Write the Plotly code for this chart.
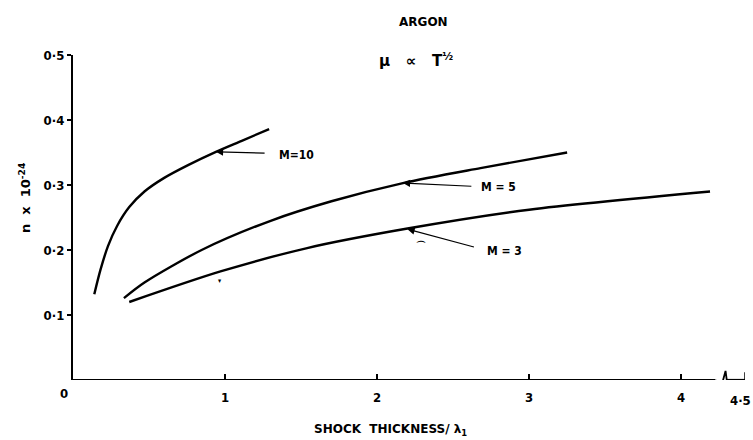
import plotly.graph_objects as go

# ---- data ----
m10_x = [0.14, 0.18, 0.23, 0.29, 0.37, 0.47, 0.60, 0.76, 0.94, 1.11, 1.29]
m10_y = [0.132, 0.169, 0.206, 0.237, 0.266, 0.290, 0.311, 0.331, 0.351, 0.368, 0.386]

m5_x = [0.335, 0.47, 0.846, 1.30, 1.70, 2.17, 2.68, 3.25]
m5_y = [0.126, 0.150, 0.200, 0.245, 0.275, 0.303, 0.326, 0.350]

m3_x = [0.37, 0.97, 1.54, 2.20, 3.00, 4.19]
m3_y = [0.120, 0.167, 0.203, 0.233, 0.262, 0.290]

x_tickvals = [1, 2, 3, 4]
x_ticktext = ["1", "2", "3", "4"]
x_end_label = "4·5"
y_tickvals = [0.1, 0.2, 0.3, 0.4, 0.5]
y_ticktext = ["0·1", "0·2", "0·3", "0·4", "0·5"]

labels = ["M=10", "M = 5", "M = 3"]
label_pos = [(1.467, 0.346), (2.80, 0.297), (2.836, 0.198)]
arrow_head = [(0.94, 0.351), (2.17, 0.303), (2.20, 0.232)]
arrow_tail = [(1.27, 0.349), (2.63, 0.298), (2.647, 0.204)]

FONT = "DejaVu Sans Condensed, Liberation Sans Narrow, DejaVu Sans, sans-serif"
FONT_W = "DejaVu Sans, Liberation Sans, sans-serif"

fig = go.Figure()
for xs, ys in [(m10_x, m10_y), (m5_x, m5_y), (m3_x, m3_y)]:
    fig.add_trace(go.Scatter(x=xs, y=ys, mode="lines",
                             line=dict(color="black", width=2.4, shape="spline", smoothing=0.8),
                             showlegend=False, hoverinfo="skip", cliponaxis=False))

annotations = []
for txt, (lx, ly) in zip(labels, label_pos):
    annotations.append(dict(x=lx, y=ly, xref="x", yref="y", text=txt, showarrow=False,
                            font=dict(family=FONT, size=12, color="black", weight="bold")))
for (hx, hy), (tx, ty) in zip(arrow_head, arrow_tail):
    annotations.append(dict(x=hx, y=hy, xref="x", yref="y", ax=tx, ay=ty, axref="x", ayref="y",
                            text="", showarrow=True, arrowhead=2, arrowsize=1.2, arrowwidth=1.2,
                            arrowcolor="black"))

# texts
annotations += [
    dict(x=0.522, y=1.10, xref="paper", yref="paper", text="ARGON", showarrow=False,
         xanchor="center", yanchor="middle",
         font=dict(family=FONT_W, size=12, color="black", weight="bold")),
    dict(x=0.510, y=0.985, xref="paper", yref="paper", text="μ   ∝   T<sup>½</sup>", showarrow=False,
         xanchor="center", yanchor="middle",
         font=dict(family=FONT_W, size=15, color="black", weight="bold")),
    dict(x=-0.0714, y=0.56, xref="paper", yref="paper", text="n  x  10<sup>-24</sup>", showarrow=False,
         xanchor="center", yanchor="middle", textangle=-90,
         font=dict(family=FONT_W, size=13, color="black", weight="bold")),
    dict(x=0.473, y=-0.154, xref="paper", yref="paper", text="SHOCK  THICKNESS/ λ<sub>1</sub>",
         xanchor="center", yanchor="middle", showarrow=False,
         font=dict(family=FONT_W, size=12, color="black", weight="bold")),
    dict(x=-0.014, y=-0.04, xref="paper", yref="paper", text="0", showarrow=False,
         xanchor="center", yanchor="middle",
         font=dict(family=FONT, size=13, color="black", weight="bold")),
    dict(x=1.012, y=-0.062, xref="paper", yref="paper", text=x_end_label, showarrow=False,
         xanchor="right", yanchor="middle",
         font=dict(family=FONT, size=13, color="black", weight="bold")),
    dict(x=2.29, y=0.207, xref="x", yref="y", text="⌒", showarrow=False,
         font=dict(family=FONT, size=10, color="black", weight="bold")),
    dict(x=0.97, y=0.152, xref="x", yref="y", text="▾", showarrow=False,
         font=dict(family=FONT, size=7, color="black")),
]

shapes = [
    dict(type="line", xref="x", yref="y", x0=0, y0=0, x1=4.225, y1=0,
         line=dict(color="black", width=2.2)),
    dict(type="path", xref="x", yref="y",
         path="M 4.225,0 L 4.26,-0.014 L 4.292,0.014 L 4.30,0.0",
         line=dict(color="black", width=1.8)),
    dict(type="line", xref="x", yref="y", x0=4.30, y0=0, x1=4.42, y1=0,
         line=dict(color="black", width=2.2)),
    dict(type="line", xref="x", yref="y", x0=4.42, y0=0, x1=4.42, y1=0.012,
         line=dict(color="black", width=1.5)),
]

fig.update_layout(
    width=753, height=440,
    margin=dict(l=73, r=8, t=55, b=60),
    paper_bgcolor="white", plot_bgcolor="white",
    annotations=annotations, shapes=shapes,
    font=dict(family=FONT, size=13, color="black"),
)
fig.update_xaxes(range=[0, 4.42], showline=False, showgrid=False, zeroline=False,
                 tickvals=x_tickvals, ticktext=x_ticktext, ticks="inside", ticklen=6,
                 tickwidth=1.5, tickcolor="black", ticklabelstandoff=8,
                 tickfont=dict(family=FONT, size=13, color="black", weight="bold"))
fig.update_yaxes(range=[0, 0.5], showline=True, linecolor="black", linewidth=2.2,
                 showgrid=False, zeroline=False,
                 tickvals=y_tickvals, ticktext=y_ticktext, ticks="outside", ticklen=4,
                 tickwidth=1.5, tickcolor="black",
                 tickfont=dict(family=FONT, size=13, color="black", weight="bold"))

fig.write_html("out.html")
